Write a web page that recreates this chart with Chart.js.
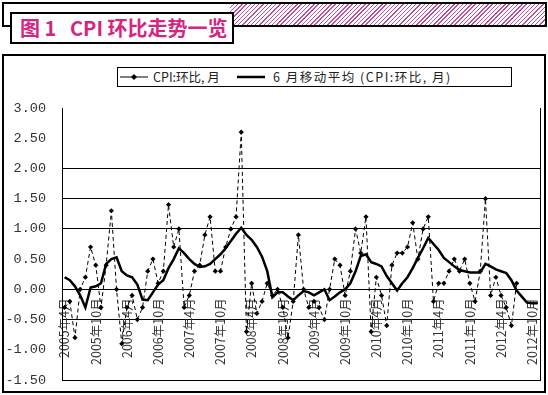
<!DOCTYPE html>
<html>
<head>
<meta charset="utf-8">
<script src="https://cdn.jsdelivr.net/npm/chart.js@4.4.1/dist/chart.umd.min.js"></script>
<style>
  html, body { margin: 0; padding: 0; background: #fff; }
  #page { position: relative; width: 548px; height: 395px; overflow: hidden; font-family: "Noto Sans CJK SC", sans-serif; }
  #band { position: absolute; left: 2px; top: 2px; width: 541px; height: 21px; border: 2px solid #000;
          background: linear-gradient(90deg, #fff 0 226px, transparent 226px),
                      repeating-linear-gradient(135deg, #c04fa0 0 1px, #fff 1px 3px); }
  #title { position: absolute; left: 10px; top: 12px; width: 212px; height: 28px; border: 2px solid #000; background: #fff;
           color: #d6257f; font-weight: bold; font-size: 20px; line-height: 28px; padding-left: 8px; box-sizing: content-box; white-space: nowrap; }
  #frame { position: absolute; left: 2px; top: 54px; width: 540px; height: 335px; border: 2px solid #000; }
  #legend { position: absolute; left: 117px; top: 67px; width: 393px; height: 18px; border: 1px solid #000;
            font-size: 12.5px; color: #222; line-height: 18px; white-space: nowrap; }
  #legend span, #legend svg { position: absolute; top: 0; }
  canvas { position: absolute; left: 0; top: 0; }
</style>
</head>
<body>
<div id="page">
  <div id="band"></div>
  <div id="title">图 1&nbsp;&nbsp; CPI 环比走势一览</div>
  <div id="frame"></div>
  <div id="legend">
    <svg style="left:2px" width="28" height="18"><line x1="0" y1="9" x2="28" y2="9" stroke="#000" stroke-width="1"/><path d="M14 6 L17 9 L14 12 L11 9 Z" fill="#000"/></svg>
    <span style="left:35px">CPI:环比, 月</span>
    <svg style="left:119px" width="28" height="18"><line x1="0" y1="9" x2="28" y2="9" stroke="#000" stroke-width="2.5"/></svg>
    <span style="left:155px; letter-spacing:1.5px">6 月移动平均 (CPI:环比, 月)</span>
  </div>
  <canvas id="cpiChart" width="548" height="395"></canvas>
</div>
<script>
// 月份 2005年4月 - 2012年11月
const months = [
  '2005年4月','2005年5月','2005年6月','2005年7月','2005年8月','2005年9月','2005年10月','2005年11月','2005年12月',
  '2006年1月','2006年2月','2006年3月','2006年4月','2006年5月','2006年6月','2006年7月','2006年8月','2006年9月','2006年10月','2006年11月','2006年12月',
  '2007年1月','2007年2月','2007年3月','2007年4月','2007年5月','2007年6月','2007年7月','2007年8月','2007年9月','2007年10月','2007年11月','2007年12月',
  '2008年1月','2008年2月','2008年3月','2008年4月','2008年5月','2008年6月','2008年7月','2008年8月','2008年9月','2008年10月','2008年11月','2008年12月',
  '2009年1月','2009年2月','2009年3月','2009年4月','2009年5月','2009年6月','2009年7月','2009年8月','2009年9月','2009年10月','2009年11月','2009年12月',
  '2010年1月','2010年2月','2010年3月','2010年4月','2010年5月','2010年6月','2010年7月','2010年8月','2010年9月','2010年10月','2010年11月','2010年12月',
  '2011年1月','2011年2月','2011年3月','2011年4月','2011年5月','2011年6月','2011年7月','2011年8月','2011年9月','2011年10月','2011年11月','2011年12月',
  '2012年1月','2012年2月','2012年3月','2012年4月','2012年5月','2012年6月','2012年7月','2012年8月','2012年9月','2012年10月','2012年11月'
];

// CPI:环比, 月 (%)
const cpiMoM = [
  -0.3, -0.2, -0.8, 0.0, 0.2, 0.7, 0.4, -0.3, 0.4,
  1.3, 0.0, -0.9, -0.3, -0.1, -0.5, -0.3, 0.3, 0.5, 0.1, 0.3, 1.4,
  0.7, 1.0, -0.3, -0.1, 0.3, 0.4, 0.9, 1.2, 0.3, 0.3, 0.7, 1.0,
  1.2, 2.6, -0.7, 0.1, -0.4, -0.2, 0.1, -0.1, 0.0, -0.3, -0.8, -0.2,
  0.9, 0.0, -0.3, -0.2, -0.3, -0.5, 0.0, 0.5, 0.4, -0.1, 0.3, 1.0,
  0.6, 1.2, -0.7, 0.2, -0.1, -0.6, 0.4, 0.6, 0.6, 0.7, 1.1, 0.5,
  1.0, 1.2, -0.2, 0.1, 0.1, 0.3, 0.5, 0.3, 0.5, 0.1, -0.2, 0.3,
  1.5, -0.1, 0.2, -0.1, -0.3, -0.6, 0.1, null, null, null, null
];

// 6月移动平均 (CPI:环比, 月)
const cpiMA6 = [
  0.2, 0.15, 0.05, -0.1, -0.3, 0.03, 0.05, 0.1, 0.42,
  0.5, 0.53, 0.3, 0.23, 0.2, 0.08, -0.17, -0.18, -0.05, 0.08, 0.15, 0.35,
  0.5, 0.68, 0.6, 0.5, 0.42, 0.37, 0.38, 0.42, 0.5, 0.58, 0.68, 0.8,
  0.92, 1.02, 0.9, 0.82, 0.7, 0.54, 0.3, -0.13, -0.05, -0.05, -0.12, -0.18,
  -0.1, -0.03, -0.05, -0.1, -0.05, 0.0, -0.18, -0.12, -0.05, 0.0, 0.1, 0.3,
  0.55, 0.58, 0.45, 0.42, 0.38, 0.22, 0.1, -0.02, 0.1, 0.2, 0.35, 0.52,
  0.68, 0.85, 0.75, 0.65, 0.52, 0.45, 0.38, 0.32, 0.3, 0.28, 0.28, 0.28,
  0.42, 0.38, 0.33, 0.3, 0.27, 0.15, -0.02, -0.12, -0.22, -0.23, -0.23
];

// 只画出部分水平网格线
const shownGrid = [2, 1.5, 1, 0, -0.5, -1.5];

new Chart(document.getElementById('cpiChart'), {
  type: 'line',
  data: {
    labels: months,
    datasets: [
      {
        label: 'CPI:环比, 月',
        data: cpiMoM,
        borderColor: '#000',
        borderWidth: 1,
        borderDash: [4, 3],
        pointStyle: 'rectRot',
        pointRadius: 2.6,
        pointBackgroundColor: '#000',
        pointBorderColor: '#000',
        pointBorderWidth: 0,
        tension: 0,
        spanGaps: false
      },
      {
        label: '6 月移动平均 (CPI:环比, 月)',
        data: cpiMA6,
        borderColor: '#000',
        borderWidth: 2.5,
        pointRadius: 0,
        tension: 0
      }
    ]
  },
  options: {
    responsive: false,
    animation: false,
    layout: { padding: { left: 0, top: 108, right: 8, bottom: 15 } },
    plugins: { legend: { display: false }, tooltip: { enabled: false } },
    scales: {
      x: {
        position: { y: 0 },
        offset: true,
        afterFit: function (scale) {
          scale.height = 0;
          scale.paddingLeft = 0;
          scale.paddingRight = 0;
        },
        grid: { display: false, drawTicks: false },
        border: { display: true, color: '#000', width: 1 },
        ticks: {
          autoSkip: false,
          minRotation: 90,
          maxRotation: 90,
          padding: 9,
          color: '#333',
          font: { family: 'Noto Sans CJK SC', size: 12.5 },
          callback: function (value, index) {
            return index % 6 === 0 ? months[index] : '';
          }
        }
      },
      y: {
        min: -1.5,
        max: 3,
        afterFit: function (scale) {
          scale.width = 62;
          scale.paddingTop = 0;
          scale.paddingBottom = 0;
        },
        grid: {
          drawTicks: false,
          color: function (ctx) {
            return ctx.tick && shownGrid.includes(ctx.tick.value) ? '#000' : 'rgba(0,0,0,0)';
          }
        },
        border: { display: true, color: '#000', width: 1 },
        ticks: {
          stepSize: 0.5,
          padding: 16,
          color: '#333',
          font: { family: 'Liberation Mono', size: 13.5 },
          callback: function (value) { return value.toFixed(2); }
        }
      },
      y2: {
        position: 'right',
        min: -1.5,
        max: 3,
        afterFit: function (scale) {
          scale.width = 0;
          scale.paddingTop = 0;
          scale.paddingBottom = 0;
        },
        grid: { display: false, drawTicks: false },
        border: { display: true, color: '#000', width: 1 },
        ticks: { display: false }
      }
    }
  }
});
</script>
</body>
</html>
